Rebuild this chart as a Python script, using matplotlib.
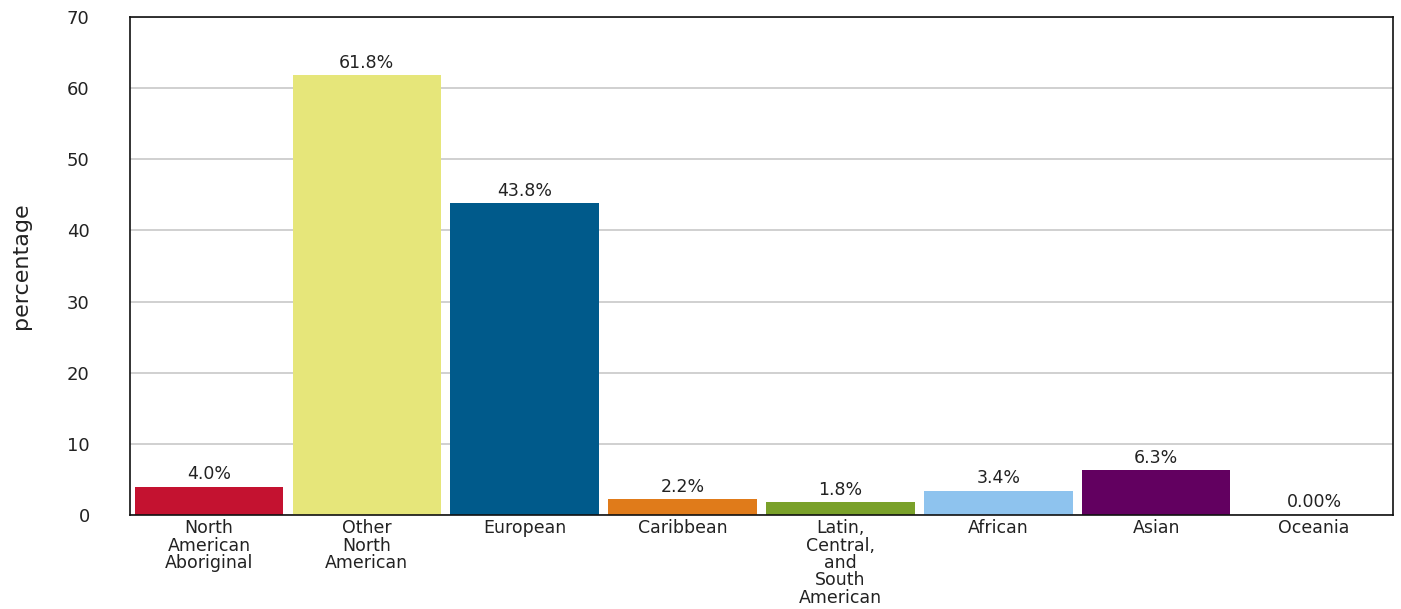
import matplotlib
matplotlib.use("Agg")
import matplotlib.pyplot as plt

plt.rcParams['font.family'] = ['DejaVu Sans']

categories = ["North\nAmerican\nAboriginal", "Other\nNorth\nAmerican", "European", "Caribbean",
              "Latin,\nCentral,\nand\nSouth\nAmerican", "African", "Asian", "Oceania"]
values = [4.0, 61.8, 43.8, 2.2, 1.8, 3.4, 6.3, 0.0]
value_labels = ["4.0%", "61.8%", "43.8%", "2.2%", "1.8%", "3.4%", "6.3%", "0.00%"]
colors = ["#c41230", "#e6e67a", "#005a8b", "#e07b1a", "#7aa12a", "#8ec3ee", "#620060", "#999999"]

fig = plt.figure(figsize=(14.01, 6.09), dpi=100)
ax = fig.add_axes([0.0928, 0.1544, 0.9015, 0.8177])

x = range(len(categories))
ax.bar(x, values, width=0.94, color=colors, zorder=2)

for xi, v, lab in zip(x, values, value_labels):
    ax.text(xi, v + 0.5, lab, ha="center", va="bottom", fontsize=12.5, color="#222222")

ax.set_xlim(-0.5, len(categories) - 0.5)
ax.set_ylim(0, 70)
ax.set_yticks(range(0, 71, 10))
ax.set_xticks(list(x))
ax.set_xticklabels(categories, fontsize=12.5, linespacing=0.96, color="#222222")
ax.tick_params(axis="both", length=0)
ax.tick_params(axis="y", pad=29, labelsize=13, labelcolor="#222222")
ax.tick_params(axis="x", pad=3)
ax.yaxis.grid(True, color="#c8c8c8", linewidth=1.2, zorder=0)
ax.set_axisbelow(True)
for s in ax.spines.values():
    s.set_linewidth(1.2)
    s.set_color("#111111")

ax.set_ylabel("percentage", fontsize=16, color="#222222")
ax.yaxis.set_label_coords(-0.0784, 0.5)

fig.savefig("out.png", dpi=100)
